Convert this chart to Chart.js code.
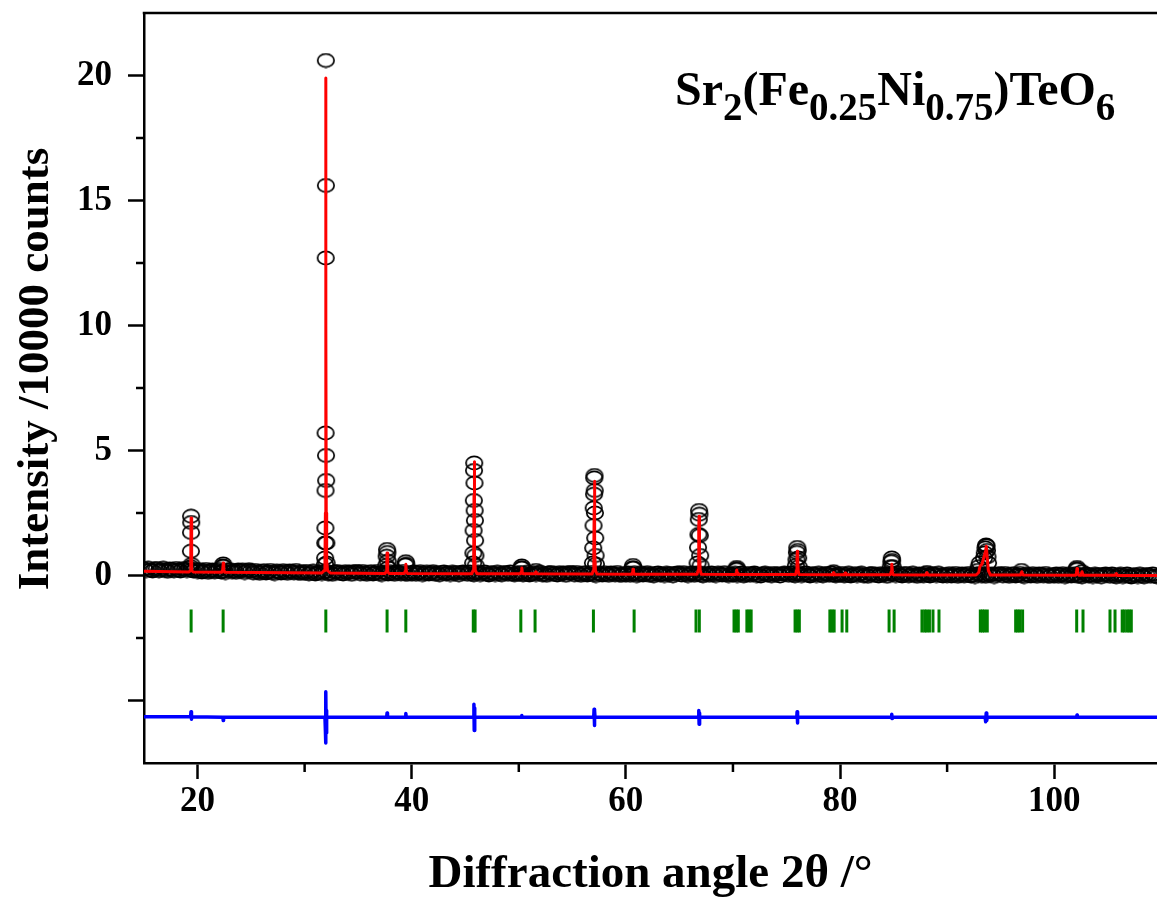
<!DOCTYPE html>
<html><head><meta charset="utf-8">
<script src="https://cdn.jsdelivr.net/npm/chart.js@4.4.1/dist/chart.umd.min.js"></script>
<style>html,body{margin:0;padding:0;background:#fff;overflow:hidden}canvas{display:block}</style>
</head><body>
<canvas id="c" width="1157" height="903"></canvas>
<script>
// ---------- data ----------
const xTickValues = [20, 40, 60, 80, 100];
const xMinorTicks = [30, 50, 70, 90];
const yTickValues = [-5, 0, 5, 10, 15, 20];
const yTickLabels = ['', '0', '5', '10', '15', '20'];
const yMinorTicks = [-2.5, 2.5, 7.5, 12.5, 17.5];

// observed step scan (background part), start 15.0 deg, step 0.2 deg
const obsStart = 15.0, obsStep = 0.2;
const obsBackground = [
0.27,0.20,0.29,0.22,0.18,0.25,0.28,0.19,0.23,0.29,0.21,0.17,0.26,0.24,0.19,0.28,0.22,0.18,0.27,0.25,0.20,0.29,0.21,0.18,0.24,
0.16,0.23,0.14,0.19,0.24,0.13,0.17,0.22,0.15,0.20,0.24,0.14,0.18,0.12,0.21,0.23,0.16,0.19,0.13,0.22,0.17,0.21,0.12,0.20,0.23,
0.18,0.11,0.20,0.13,0.09,0.16,0.19,0.10,0.14,0.20,0.12,0.08,0.17,0.15,0.10,0.19,0.13,0.09,0.18,0.16,0.11,0.20,0.12,0.09,0.15,
0.09,0.16,0.07,0.12,0.17,0.06,0.10,0.15,0.08,0.13,0.17,0.07,0.11,0.05,0.14,0.16,0.09,0.12,0.06,0.15,0.10,0.14,0.05,0.13,0.16,
0.14,0.07,0.16,0.09,0.05,0.12,0.15,0.06,0.10,0.16,0.08,0.04,0.13,0.11,0.06,0.15,0.09,0.05,0.14,0.12,0.07,0.16,0.08,0.05,0.11,
0.07,0.14,0.05,0.10,0.15,0.04,0.08,0.13,0.06,0.11,0.15,0.05,0.09,0.03,0.12,0.14,0.07,0.10,0.04,0.13,0.08,0.12,0.03,0.11,0.14,
0.12,0.05,0.14,0.07,0.03,0.10,0.13,0.04,0.08,0.14,0.06,0.02,0.11,0.09,0.04,0.13,0.07,0.03,0.12,0.10,0.05,0.14,0.06,0.03,0.09,
0.05,0.12,0.03,0.08,0.13,0.02,0.06,0.11,0.04,0.09,0.13,0.03,0.07,0.01,0.10,0.12,0.05,0.08,0.02,0.11,0.06,0.10,0.01,0.09,0.12,
0.10,0.03,0.12,0.05,0.01,0.08,0.11,0.02,0.06,0.12,0.04,0.00,0.09,0.07,0.02,0.11,0.05,0.01,0.10,0.08,0.03,0.12,0.04,0.01,0.07,
0.03,0.10,0.01,0.06,0.11,0.00,0.04,0.09,0.02,0.07,0.11,0.01,0.05,-0.01,0.08,0.10,0.03,0.06,0.00,0.09,0.04,0.08,-0.01,0.07,0.10,
0.09,0.02,0.11,0.04,0.00,0.07,0.10,0.01,0.05,0.11,0.03,-0.01,0.08,0.06,0.01,0.10,0.04,0.00,0.09,0.07,0.02,0.11,0.03,0.00,0.06,
0.02,0.09,0.00,0.05,0.10,-0.01,0.03,0.08,0.01,0.06,0.10,0.00,0.04,-0.02,0.07,0.09,0.02,0.05,-0.01,0.08,0.03,0.07,-0.02,0.06,0.09,
0.08,0.01,0.10,0.03,-0.01,0.06,0.09,0.00,0.04,0.10,0.02,-0.02,0.07,0.05,0.00,0.09,0.03,-0.01,0.08,0.06,0.01,0.10,0.02,-0.01,0.05,
0.01,0.08,-0.01,0.04,0.09,-0.02,0.02,0.07,0.00,0.05,0.09,-0.01,0.03,-0.03,0.06,0.08,0.01,0.04,-0.02,0.07,0.02,0.06,-0.03,0.05,0.08,
0.07,0.00,0.09,0.02,-0.02,0.05,0.08,-0.01,0.03,0.09,0.01,-0.03,0.06,0.04,-0.01,0.08,0.02,-0.02,0.07,0.05,0.00,0.09,0.01,-0.02,0.04,
0.00,0.07,-0.02,0.03,0.08,-0.03,0.01,0.06,-0.01,0.04,0.08,-0.02,0.02,-0.04,0.05,0.07,0.00,0.03,-0.03,0.06,0.01,0.05,-0.04,0.04,0.07,
0.06,-0.01,0.08,0.01,-0.03,0.04,0.07,-0.02,0.02,0.08,0.00,-0.04,0.05,0.03,-0.02,0.07,0.01,-0.03,0.06,0.04,-0.01,0.08,0.00,-0.03,0.03,
-0.01,0.06,-0.03,0.02,0.07,-0.04,0.00,0.05,-0.02,0.03,0.07,-0.03,0.01,-0.05,0.04,0.06,-0.01,0.02,-0.04,0.05,0.00,0.04,-0.05,0.03,0.06,
0.04,-0.03,0.06,-0.01,-0.05,0.02,0.05,-0.04,0.00,0.06,-0.02,-0.06,0.03,0.01,-0.04,0.05,-0.01,-0.05,0.04,0.02,-0.03,0.06,-0.02,-0.05
];

// observed points on the reflections [2theta, intensity]
const obsPeaks = [
[19.36,0.35],[19.38,0.97],[19.39,1.72],[19.40,2.37],[19.41,2.12],[19.43,0.44],
[22.37,0.38],[22.40,0.46],[22.43,0.36],
[31.90,0.45],[31.92,0.7],[31.93,1.3],[31.94,1.9],[31.95,3.4],[31.96,5.7],[31.97,12.7],[31.98,20.6],[31.99,15.6],[32.00,4.8],[32.01,3.8],[32.03,1.3],[32.05,0.5],
[37.62,0.4],[37.66,0.77],[37.70,1.04],[37.73,0.92],[37.76,0.57],[37.80,0.3],
[39.40,0.42],[39.45,0.55],[39.50,0.45],
[45.74,0.5],[45.76,0.9],[45.78,1.8],[45.80,3.0],[45.82,4.2],[45.84,4.5],[45.86,3.7],[45.88,2.6],[45.90,2.2],[45.92,1.4],[45.95,0.8],[45.98,0.4],
[50.24,0.3],[50.28,0.38],[50.32,0.3],
[51.60,0.2],
[56.92,0.5],[56.95,1.1],[56.98,2.0],[57.00,2.7],[57.03,3.25],[57.05,3.9],[57.07,4.0],[57.09,3.4],[57.11,2.5],[57.14,1.5],[57.17,0.8],[57.20,0.45],
[60.62,0.3],[60.67,0.4],[60.72,0.3],
[66.70,0.5],[66.74,1.12],[66.78,1.64],[66.81,2.24],[66.84,2.6],[66.87,2.45],[66.90,1.6],[66.94,0.8],[66.98,0.4],
[70.30,0.25],[70.35,0.32],[70.40,0.25],
[75.88,0.4],[75.93,0.64],[75.97,0.92],[76.01,1.12],[76.05,1.0],[76.09,0.7],[76.14,0.35],
[79.40,0.15],
[84.74,0.35],[84.79,0.55],[84.83,0.7],[84.87,0.6],[84.92,0.35],
[88.12,0.12],
[92.85,0.2],[92.95,0.35],[93.05,0.5],[93.45,0.7],[93.52,0.9],[93.58,1.1],[93.64,1.22],[93.68,1.18],[93.72,1.0],[93.77,0.75],[93.82,0.5],
[96.95,0.2],
[102.08,0.25],[102.13,0.32],[102.18,0.25],[102.60,0.15]
];

// calculated profile (red)
const calcLine = [
[15,0.17],[19.2,0.14],[19.33,0.2],[19.37,0.8],[19.40,2.3],[19.43,0.8],[19.47,0.2],[19.6,0.14],
[22.25,0.13],[22.35,0.22],[22.40,0.5],[22.45,0.22],[22.55,0.13],
[31.6,0.1],[31.82,0.2],[31.9,0.6],[31.94,2.5],[31.965,10],[31.98,19.9],[31.995,10],[32.02,2.5],[32.06,0.6],[32.14,0.2],[32.4,0.1],
[37.5,0.08],[37.62,0.15],[37.67,0.45],[37.70,0.9],[37.73,0.45],[37.78,0.15],[37.9,0.08],
[39.3,0.08],[39.4,0.18],[39.45,0.45],[39.5,0.18],[39.6,0.08],
[45.6,0.07],[45.74,0.2],[45.79,0.9],[45.82,3.2],[45.84,4.55],[45.86,3.2],[45.89,0.9],[45.94,0.2],[46.1,0.07],
[50.15,0.07],[50.23,0.14],[50.28,0.3],[50.33,0.14],[50.4,0.07],
[51.5,0.07],[51.6,0.15],[51.7,0.07],
[56.85,0.06],[56.96,0.2],[57.01,1.0],[57.04,2.7],[57.06,3.77],[57.08,2.7],[57.11,1.0],[57.16,0.2],[57.3,0.06],
[60.55,0.05],[60.63,0.12],[60.67,0.25],[60.72,0.12],[60.8,0.05],
[66.65,0.05],[66.74,0.2],[66.79,0.9],[66.82,1.9],[66.84,2.37],[66.86,1.9],[66.89,0.9],[66.94,0.2],[67.05,0.05],
[70.25,0.04],[70.31,0.1],[70.35,0.22],[70.4,0.1],[70.47,0.04],
[75.85,0.04],[75.93,0.2],[75.98,0.7],[76.01,0.97],[76.04,0.7],[76.09,0.2],[76.17,0.04],
[79.3,0.03],[79.4,0.12],[79.5,0.03],
[80.4,0.03],[80.47,0.1],[80.55,0.03],
[84.7,0.03],[84.77,0.15],[84.83,0.45],[84.89,0.15],[84.96,0.03],
[88.0,0.02],[88.12,0.12],[88.22,0.02],
[92.7,0.02],[92.95,0.12],[93.07,0.37],[93.25,0.45],[93.45,0.75],[93.6,1.0],[93.66,1.17],[93.73,0.8],[93.85,0.2],[94.05,0.02],
[96.85,0.02],[96.97,0.15],[97.1,0.02],
[102.0,0.01],[102.08,0.1],[102.13,0.28],[102.18,0.1],[102.3,0.01],[102.5,0.01],[102.6,0.15],[102.7,0.01],
[105.7,0.01],[105.8,0.08],[105.9,0.0],[109.6,0.0]
];

// difference curve (blue), offset
const diffLine = [
[15,-5.65],[19.35,-5.65],[19.39,-5.45],[19.42,-5.75],[19.45,-5.65],
[22.37,-5.67],[22.40,-5.8],[22.43,-5.67],
[31.9,-5.67],[31.94,-6.2],[31.96,-4.7],[31.975,-6.7],[31.99,-4.65],[32.01,-6.3],[32.04,-5.4],[32.07,-5.67],
[37.66,-5.67],[37.70,-5.5],[37.74,-5.67],
[39.41,-5.67],[39.45,-5.52],[39.49,-5.67],
[45.78,-5.67],[45.81,-5.15],[45.84,-6.2],[45.87,-5.3],[45.9,-5.67],
[50.25,-5.67],[50.28,-5.6],[50.31,-5.67],
[57.0,-5.67],[57.03,-5.35],[57.06,-6.0],[57.09,-5.4],[57.12,-5.67],
[66.78,-5.67],[66.81,-5.4],[66.84,-5.95],[66.87,-5.5],[66.9,-5.67],
[75.96,-5.67],[75.99,-5.45],[76.02,-5.9],[76.05,-5.67],
[84.8,-5.67],[84.83,-5.55],[84.86,-5.72],[84.89,-5.67],
[93.55,-5.67],[93.6,-5.85],[93.65,-5.5],[93.7,-5.8],[93.75,-5.67],
[102.1,-5.67],[102.13,-5.58],[102.16,-5.67],
[109.6,-5.67]
];

// Bragg reflection positions (green ticks)
const braggPositions = [
19.40,22.39,31.98,37.70,39.45,45.75,45.92,50.19,51.52,56.97,60.77,66.55,66.86,
70.1,70.3,70.5,71.3,71.5,71.7,75.8,76.0,76.2,79.05,79.25,79.45,80.19,80.63,
84.58,85.05,87.65,87.9,88.1,88.35,88.68,89.24,93.1,93.3,93.5,93.75,
96.4,96.6,96.8,97.05,102.1,102.69,105.21,105.68,106.35,106.55,106.8,107.0,107.2
];
const braggLevel = -1.82;

const yAxisTitle = 'Intensity /10000 counts';
const xAxisTitle = 'Diffraction angle 2θ /°';

// ---------- chart ----------
const FONT = "'Liberation Serif', 'Times New Roman', serif";
const toXY = a => a.map(p => ({x: p[0], y: p[1]}));
const obsData = obsBackground.map((v, i) => ({x: +(obsStart + i * obsStep).toFixed(2), y: v})).concat(toXY(obsPeaks));

const ring = document.createElement('canvas');
ring.width = 20; ring.height = 16;
(function(){ const g = ring.getContext('2d'); g.strokeStyle = '#000'; g.lineWidth = 1.7;
  g.beginPath(); g.ellipse(10, 8, 8.2, 6.6, 0, 0, Math.PI * 2); g.stroke(); })();

const framePlugin = {
  id: 'frame',
  afterDraw(chart) {
    const {ctx, chartArea: a, scales: {x, y}} = chart;
    ctx.save();
    ctx.strokeStyle = '#000'; ctx.lineWidth = 2.5;
    ctx.beginPath(); ctx.moveTo(a.left - 1.25, a.top); ctx.lineTo(a.right + 2, a.top); ctx.stroke();
    ctx.beginPath();
    xMinorTicks.forEach(v => { const px = x.getPixelForValue(v); ctx.moveTo(px, a.bottom); ctx.lineTo(px, a.bottom + 9); });
    yMinorTicks.forEach(v => { const py = y.getPixelForValue(v); ctx.moveTo(a.left, py); ctx.lineTo(a.left - 8, py); });
    ctx.stroke();
    ctx.fillStyle = '#000';
    // y axis title
    ctx.save();
    ctx.translate(36, 369); ctx.rotate(-Math.PI / 2);
    ctx.font = 'bold 45px ' + FONT; ctx.textAlign = 'center'; ctx.textBaseline = 'middle';
    ctx.fillText(yAxisTitle, 0, 0);
    ctx.restore();
    // formula label
    const parts = [['Sr',0],['2',1],['(Fe',0],['0.25',1],['Ni',0],['0.75',1],[')TeO',0],['6',1]];
    let cx = 675;
    ctx.textBaseline = 'alphabetic'; ctx.textAlign = 'left';
    parts.forEach(([t, sub]) => {
      ctx.font = 'bold ' + (sub ? 39 : 48) + 'px ' + FONT;
      ctx.fillText(t, cx, sub ? 120 : 105);
      cx += ctx.measureText(t).width;
    });
    ctx.restore();
  }
};

const zeroPad = s => { s.paddingTop = 0; s.paddingBottom = 0; s.paddingLeft = 0; s.paddingRight = 0; };

new Chart(document.getElementById('c'), {
  type: 'scatter',
  data: {
    datasets: [
      {label: 'Calculated', data: toXY(calcLine), showLine: true, borderColor: '#ff0000', borderWidth: 3,
       borderJoinStyle: 'round', pointRadius: 0, order: 0},
      {label: 'Observed', data: obsData, showLine: false, pointStyle: ring, pointRadius: 7, order: 1},
      {label: 'Bragg positions', data: braggPositions.map(v => ({x: v, y: braggLevel})), showLine: false,
       pointStyle: 'line', rotation: 90, pointRadius: 11.5, pointBorderWidth: 3, pointBorderColor: '#008000',
       pointBackgroundColor: '#008000', order: 2},
      {label: 'Difference', data: toXY(diffLine), showLine: true, borderColor: '#0000ff', borderWidth: 3.5,
       borderJoinStyle: 'round', pointRadius: 0, order: 3}
    ]
  },
  options: {
    responsive: false, animation: false, events: [],
    layout: {autoPadding: false, padding: {top: 13, left: 0, right: 0, bottom: 0}},
    plugins: {legend: {display: false}, tooltip: {enabled: false}},
    scales: {
      x: {
        type: 'linear', min: 15, max: 109.6,
        afterBuildTicks: s => { s.ticks = xTickValues.map(v => ({value: v})); },
        afterFit: s => { s.height = 140; zeroPad(s); },
        ticks: {autoSkip: false, maxRotation: 0, padding: 2, color: '#000',
                font: {family: FONT, size: 35, weight: 'bold'}},
        grid: {display: true, drawOnChartArea: false, drawTicks: true, tickLength: 16, tickWidth: 2.5, tickColor: '#000'},
        border: {display: true, color: '#000', width: 2.5},
        title: {display: true, text: xAxisTitle, color: '#000',
                font: {family: FONT, size: 47, weight: 'bold'}, padding: {top: 0, bottom: 0}}
      },
      y: {
        type: 'linear', min: -7.5, max: 22.5,
        afterBuildTicks: s => { s.ticks = yTickValues.map(v => ({value: v})); },
        afterFit: s => { s.width = 144; zeroPad(s); },
        ticks: {autoSkip: false, padding: 16, color: '#000',
                font: {family: FONT, size: 35, weight: 'bold'},
                callback: v => yTickLabels[yTickValues.indexOf(v)]},
        grid: {display: true, drawOnChartArea: false, drawTicks: true, tickLength: 16, tickWidth: 2.5, tickColor: '#000'},
        border: {display: true, color: '#000', width: 2.5},
        title: {display: false, text: yAxisTitle}
      }
    }
  },
  plugins: [framePlugin]
});
</script>
</body></html>
